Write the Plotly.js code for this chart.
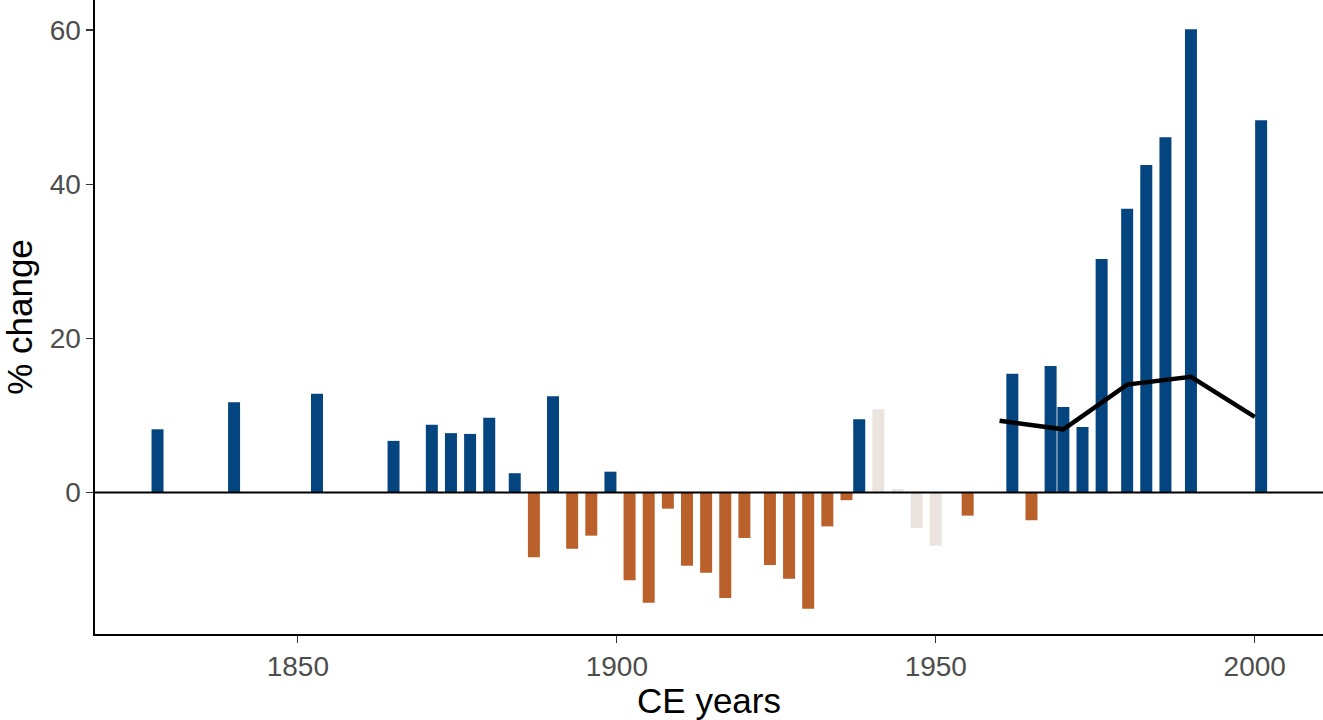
<!DOCTYPE html>
<html>
<head>
<meta charset="utf-8">
<script src="https://cdn.plot.ly/plotly-3.0.1.min.js"></script>
<style>html,body{margin:0;padding:0;background:#fff;}#chart{width:1323px;height:720px;}</style>
</head>
<body>
<div id="chart"></div>
<script>
const years = [1828,1840,1853,1865,1871,1874,1877,1880,1884,1887,1890,1893,1896,1899,1902,1905,1908,1911,1914,1917,1920,1924,1927,1930,1933,1936,1938,1941,1944,1947,1950,1955,1962,1965,1968,1970,1973,1976,1980,1983,1986,1990,2001];
const values = [8.2,11.7,12.8,6.7,8.8,7.7,7.6,9.7,2.5,-8.4,12.5,-7.3,-5.6,2.7,-11.4,-14.3,-2.1,-9.5,-10.4,-13.7,-5.9,-9.4,-11.2,-15.1,-4.4,-1.0,9.5,10.8,0.45,-4.6,-6.9,-3.0,15.4,-3.6,16.4,11.1,8.5,30.3,36.8,42.5,46.1,60.1,48.3];
const groups = ["pos","pos","pos","pos","pos","pos","pos","pos","pos","neg","pos","neg","neg","pos","neg","neg","neg","neg","neg","neg","neg","neg","neg","neg","neg","neg","pos","other","other","other","other","neg","pos","neg","pos","pos","pos","pos","pos","pos","pos","pos","pos"];
const lineYears = [1960,1970,1980,1990,2000];
const lineValues = [9.3,8.2,14.0,15.0,9.8];
const xTicks = [1850,1900,1950,2000];
const yTicks = [0,20,40,60];

const groupColors = {pos:"#04457f", neg:"#b9602b", other:"#ebe4de"};
const traces = Object.keys(groupColors).map(g => {
  const xs = [], ys = [];
  years.forEach((y,i) => { if (groups[i] === g) { xs.push(y); ys.push(values[i]); } });
  return {type:"bar", x:xs, y:ys, width:1.88, marker:{color:groupColors[g], line:{width:0}}, showlegend:false, hoverinfo:"x+y"};
});
traces.push({type:"scatter", mode:"lines", x:lineYears, y:lineValues, line:{color:"#000", width:4.5}, showlegend:false});

const font = "Liberation Sans, Arial, sans-serif";
const layout = {
  width:1323, height:720,
  margin:{l:95, r:0, t:0, b:86},
  paper_bgcolor:"#fff", plot_bgcolor:"#fff",
  barmode:"overlay",
  font:{family:font},
  xaxis:{
    range:[1818.2, 2010.7], tickvals:xTicks, ticktext:xTicks.map(String),
    showgrid:false, zeroline:false, showline:true, linecolor:"#000", linewidth:1.6,
    ticks:"outside", ticklen:7, tickwidth:1.2, tickcolor:"#333",
    tickfont:{size:28, color:"#4d4d4d", family:font},
    title:{text:"CE years", font:{size:35, color:"#000", family:font}, standoff:2}
  },
  yaxis:{
    range:[-18.36, 63.9], tickvals:yTicks, ticktext:yTicks.map(String),
    showgrid:false, zeroline:false, showline:true, linecolor:"#000", linewidth:1.6,
    ticks:"outside", ticklen:7, tickwidth:1.2, tickcolor:"#333",
    tickfont:{size:28, color:"#4d4d4d", family:font},
    title:{text:"% change", font:{size:35, color:"#000", family:font}, standoff:6}
  },
  shapes:[{type:"line", xref:"paper", x0:0, x1:1, yref:"y", y0:0, y1:0, line:{color:"#000", width:2}, layer:"above"}]
};
Plotly.newPlot("chart", traces, layout, {displayModeBar:false, staticPlot:true});
</script>
</body>
</html>
